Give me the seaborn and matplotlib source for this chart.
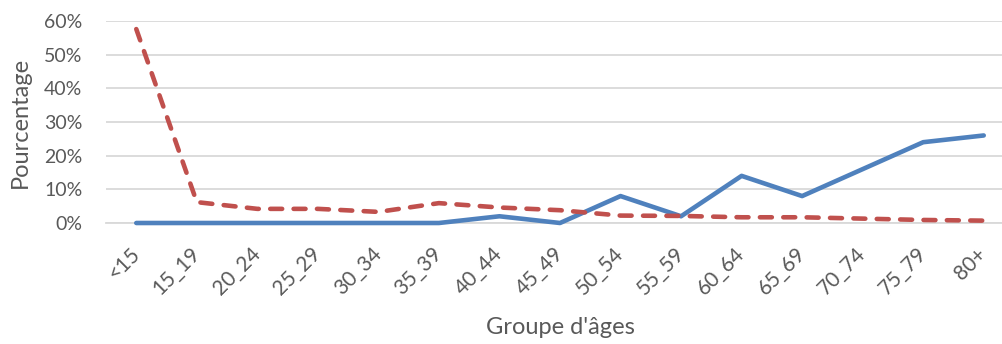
import matplotlib
matplotlib.use("Agg")
import matplotlib.pyplot as plt
import matplotlib.ticker as mticker
import numpy as np
import pandas as pd
import seaborn as sns

# Age groups and the two percentage series
age_groups = ["<15", "15_19", "20_24", "25_29", "30_34", "35_39", "40_44", "45_49",
              "50_54", "55_59", "60_64", "65_69", "70_74", "75_79", "80+"]
series_blue = [0.0, 0.0, 0.0, 0.0, 0.0, 0.0, 2.0, 0.0, 8.0, 2.0, 14.0, 8.0, 16.0, 24.0, 26.0]
series_red = [57.6, 6.2, 4.2, 4.2, 3.3, 5.9, 4.6, 3.8, 2.2, 2.1, 1.7, 1.7, 1.3, 0.9, 0.7]
y_ticks = [0, 10, 20, 30, 40, 50, 60]

sns.set_theme(style="white")
plt.rcParams["font.family"] = ["Lato", "DejaVu Sans"]

text_color = "#595959"
grid_color = "#D9D9D9"
blue = "#4F81BD"
red = "#C0504D"

df = pd.DataFrame({
    "pos": list(range(len(age_groups))) * 2,
    "value": series_blue + series_red,
    "serie": ["A"] * len(age_groups) + ["B"] * len(age_groups),
})

W, H = 1003, 344
left, right, top, bottom = 106, 1014, 21, 223
fig = plt.figure(figsize=(W / 100, H / 100), dpi=100)
ax = fig.add_axes([left / W, 1 - bottom / H, (right - left) / W, (bottom - top) / H])

sns.lineplot(data=df, x="pos", y="value", hue="serie", style="serie",
             palette={"A": blue, "B": red},
             dashes={"A": "", "B": (2.6, 2.5)},
             linewidth=3.3, legend=False, ax=ax, sort=False)

for line in ax.get_lines():
    line.set_solid_capstyle("round")
    line.set_dash_capstyle("round")
    line.set_solid_joinstyle("round")
    line.set_dash_joinstyle("round")
    line.set_clip_on(False)
    line.set_zorder(3)

ax.set_xlim(-0.5, len(age_groups) - 0.5)
ax.set_ylim(0, 60)
ax.set_yticks(y_ticks)
ax.yaxis.set_major_formatter(mticker.FuncFormatter(lambda v, p: f"{v:.0f}%"))
ax.set_xticks(range(len(age_groups)))
ax.set_xticklabels(age_groups, rotation=45, ha="right", va="center", rotation_mode="anchor")

ax.grid(axis="y", color=grid_color, linewidth=1.3)
ax.set_axisbelow(True)
for side in ["top", "right", "left"]:
    ax.spines[side].set_visible(False)
ax.spines["bottom"].set_color(grid_color)
ax.spines["bottom"].set_linewidth(1.3)

ax.tick_params(axis="y", length=0, pad=17, labelsize=14, labelcolor=text_color)
ax.tick_params(axis="x", length=0, pad=20, labelsize=15, labelcolor=text_color)

ax.set_xlabel("Groupe d'âges", fontsize=17, color=text_color)
ax.set_ylabel("Pourcentage", fontsize=17, color=text_color)
ax.xaxis.set_label_coords(0.5, (bottom - 327) / (bottom - top))
ax.xaxis.label.set_va("center")
ax.yaxis.set_label_coords((20 - left) / (right - left), 0.5)
ax.yaxis.label.set_va("center")

fig.savefig("out.png", dpi=100)
